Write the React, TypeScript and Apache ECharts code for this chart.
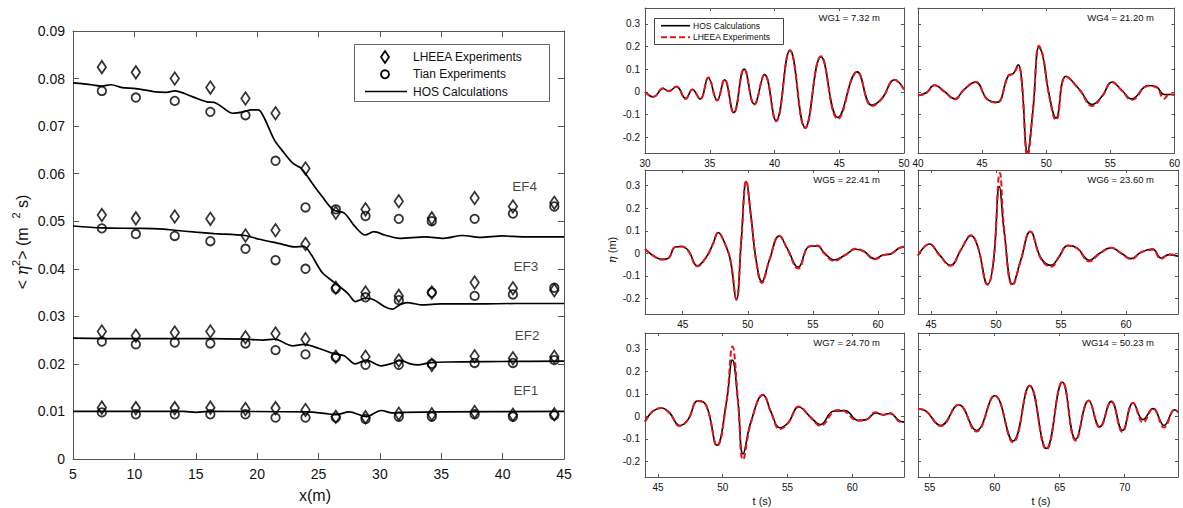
import React, { useEffect, useRef } from 'react';
import * as echarts from 'echarts';

const FONT = '"Liberation Sans", Arial, Helvetica, sans-serif';
const AX = '#555555';
const RED = '#e8141c';

// ---------------- Left panel: energy flux (EF1..EF4) ----------------
const xTicks = [5, 10, 15, 20, 25, 30, 35, 40, 45];
const yTicks = [0, 0.01, 0.02, 0.03, 0.04, 0.05, 0.06, 0.07, 0.08, 0.09];
const stationX = [7.35, 10.12, 13.29, 16.19, 19.05, 21.5, 23.94, 26.41, 28.83, 31.54, 34.23, 37.72, 40.84, 44.21];
const lheeaEF4 = [0.0824, 0.0813, 0.08, 0.0781, 0.0758, 0.0727, 0.0611, 0.0518, 0.0525, 0.0542, 0.0506, 0.0549, 0.0531, 0.0539];
const tianEF4 = [0.0774, 0.076, 0.0753, 0.073, 0.0723, 0.0627, 0.0529, 0.0525, 0.0511, 0.0505, 0.05, 0.0505, 0.0516, 0.0531];
const lheeaEF3 = [0.0513, 0.0506, 0.051, 0.0505, 0.047, 0.0481, 0.0452, 0.036, 0.035, 0.0343, 0.035, 0.0371, 0.0359, 0.0355];
const tianEF3 = [0.0485, 0.0473, 0.0469, 0.0458, 0.0442, 0.0418, 0.04, 0.0358, 0.034, 0.0334, 0.035, 0.0343, 0.0346, 0.036];
const lheeaEF2 = [0.0268, 0.0259, 0.0266, 0.0268, 0.0256, 0.0264, 0.0252, 0.0215, 0.0215, 0.0207, 0.0198, 0.0216, 0.0212, 0.0215];
const tianEF2 = [0.0247, 0.0241, 0.0245, 0.0243, 0.0243, 0.0229, 0.022, 0.0214, 0.0198, 0.0198, 0.02, 0.0202, 0.0202, 0.0208];
const lheeaEF1 = [0.0108, 0.0107, 0.0107, 0.0108, 0.0105, 0.0107, 0.0103, 0.0089, 0.0088, 0.0095, 0.0094, 0.0099, 0.0093, 0.0094];
const tianEF1 = [0.0098, 0.0094, 0.0094, 0.0094, 0.0094, 0.0087, 0.0087, 0.0087, 0.0084, 0.0089, 0.0089, 0.0094, 0.0089, 0.0092];

const hosEF4 = [[5, 0.0791], [6.5, 0.0787], [7.35, 0.0784], [8.1, 0.0787], [9, 0.0781], [10.12, 0.0779], [11.7, 0.0772], [12.6, 0.0771], [13.29, 0.0774], [14.7, 0.0762], [15.9, 0.0751], [16.5, 0.075], [17.1, 0.0741], [18, 0.0727], [18.9, 0.073], [19.5, 0.0734], [20.1, 0.0734], [20.6, 0.0716], [21.4, 0.0671], [22, 0.065], [22.9, 0.0622], [23.6, 0.0611], [24.4, 0.0583], [25.3, 0.0552], [26.2, 0.0524], [27.1, 0.0517], [28, 0.0488], [28.8, 0.0471], [29.5, 0.0478], [30.4, 0.0471], [31.6, 0.0464], [33.7, 0.0467], [35.2, 0.0464], [36.7, 0.047], [38.2, 0.0466], [40, 0.0469], [41.8, 0.0467], [45, 0.0467]];
const hosEF3 = [[5, 0.049], [7.35, 0.0486], [10.12, 0.0485], [12, 0.0484], [13.29, 0.0481], [15, 0.0477], [16.5, 0.0474], [19, 0.047], [20.2, 0.0462], [22, 0.0452], [23, 0.0446], [23.8, 0.0447], [24.4, 0.043], [25.3, 0.0392], [26.2, 0.0373], [27.4, 0.0348], [28, 0.0331], [28.8, 0.0338], [29.5, 0.0335], [30.4, 0.032], [31, 0.0315], [31.6, 0.0324], [32.2, 0.0329], [33.5, 0.0324], [35, 0.0326], [38, 0.0326], [41, 0.0327], [45, 0.0327]];
const hosEF2 = [[5, 0.0254], [10, 0.0253], [16, 0.0253], [19, 0.0252], [20.5, 0.025], [21.4, 0.0252], [22.9, 0.0238], [23.8, 0.0241], [25, 0.0233], [26.2, 0.0222], [27.1, 0.0217], [28, 0.02], [28.9, 0.0208], [30.1, 0.0196], [31, 0.0201], [31.6, 0.0208], [32.5, 0.02], [33.1, 0.0198], [34, 0.0202], [35.5, 0.0204], [40, 0.0205], [45, 0.0206]];
const hosEF1 = [[5, 0.01], [14, 0.01], [15, 0.0098], [16, 0.01], [24, 0.0099], [25.5, 0.0096], [26.4, 0.0093], [27.5, 0.0099], [28.9, 0.0089], [30.1, 0.0102], [31, 0.0097], [32, 0.0098], [35, 0.0099], [45, 0.01]];
const efLabels = [
  { name: 'EF4', value: [41.8, 0.0572] },
  { name: 'EF3', value: [41.9, 0.0404] },
  { name: 'EF2', value: [42.0, 0.0259] },
  { name: 'EF1', value: [41.9, 0.0143] },
];

// ---------------- Right panels: wave gauge time series ----------------
const etaTicks = [-0.2, -0.1, 0, 0.1, 0.2, 0.3];
const gaugeNames = ['WG1 = 7.32 m', 'WG4 = 21.20 m', 'WG5 = 22.41 m', 'WG6 = 23.60 m', 'WG7 = 24.70 m', 'WG14 = 50.23 m'];
const tRanges = [[30, 50], [40, 60], [42.1, 62], [44, 64], [44, 64], [54.1, 74.1]];
const tTicks = [[30, 35, 40, 45, 50], [40, 45, 50, 55, 60], [45, 50, 55, 60], [45, 50, 55, 60], [45, 50, 55, 60], [55, 60, 65, 70]];

const wg1Hos = [[30, 0], [30.65, -0.022], [31.4, 0.015], [31.83, 0.003], [32.43, 0.023], [33.14, -0.029], [33.66, 0.01], [34.26, -0.032], [34.89, 0.061], [35.57, -0.037], [36.14, 0.053], [36.85, -0.091], [37.66, 0.1], [38.44, -0.054], [39.23, 0.076], [40.12, -0.127], [41.19, 0.183], [42.37, -0.158], [43.59, 0.155], [44.9, -0.113], [46.39, 0.088], [47.52, -0.059], [48.3, -0.029], [49.27, 0.053], [50, 0.012]];
const wg1Lheea = [[30, 0], [30.65, -0.022], [31.4, 0.016], [31.83, 0.003], [32.43, 0.024], [33.14, -0.031], [33.66, 0.01], [34.26, -0.032], [34.89, 0.063], [35.57, -0.038], [36.14, 0.054], [36.85, -0.093], [37.66, 0.101], [38.44, -0.056], [39.23, 0.077], [40.12, -0.13], [41.19, 0.183], [42.37, -0.16], [43.59, 0.157], [44.9, -0.12], [46.39, 0.088], [47.52, -0.063], [48.3, -0.03], [49.27, 0.053], [50, 0.01]];
const wg4Hos = [[40, -0.016], [40.64, -0.004], [41.28, 0.029], [42.1, 0.0], [42.87, -0.031], [43.59, 0.01], [44.49, 0.043], [45.38, -0.031], [46.15, -0.046], [47.05, 0.072], [47.44, 0.081], [47.82, 0.119], [48.08, 0.054], [48.54, -0.266], [48.97, -0.078], [49.44, 0.199], [49.74, 0.157], [50.2, -0.004], [50.77, -0.115], [51.54, 0.069], [52.6, 0.01], [53.59, -0.056], [54.36, -0.019], [55.13, 0.043], [55.9, 0.007], [56.67, -0.031], [57.95, 0.028], [58.59, 0.022], [59.2, -0.012], [60, -0.012]];
const wg4Lheea = [[40, -0.016], [40.64, -0.006], [41.28, 0.029], [42.1, -0.002], [42.87, -0.033], [43.59, 0.01], [44.49, 0.043], [45.38, -0.033], [46.15, -0.048], [47.05, 0.07], [47.44, 0.08], [47.82, 0.112], [48.08, 0.05], [48.54, -0.285], [48.97, -0.08], [49.44, 0.203], [49.74, 0.16], [50.2, -0.01], [50.77, -0.125], [51.54, 0.068], [52.6, 0.008], [53.59, -0.062], [54.36, -0.02], [55.13, 0.043], [55.9, 0.005], [56.67, -0.036], [57.95, 0.026], [58.59, 0.02], [59.2, -0.03], [59.6, -0.01], [60, -0.014]];
const wg5Hos = [[42.1, 0.018], [42.76, -0.012], [43.4, -0.027], [43.9, -0.022], [44.4, 0.027], [44.9, 0.03], [45.43, 0.012], [46.12, -0.056], [46.83, -0.015], [47.34, 0.044], [47.72, 0.092], [48.23, 0.044], [48.66, -0.03], [49.12, -0.207], [49.5, 0.06], [49.88, 0.318], [50.26, 0.155], [50.64, -0.03], [51.08, -0.126], [51.66, -0.03], [52.42, 0.077], [53.06, 0.018], [53.87, -0.062], [54.71, 0.03], [55.35, 0.032], [55.86, 0.003], [56.62, -0.03], [57.51, -0.007], [58.27, 0.018], [58.91, 0.009], [59.75, -0.025], [60.43, -0.007], [60.94, -0.004], [61.6, 0.022], [62, 0.028]];
const wg5Lheea = [[42.1, 0.02], [42.76, -0.012], [43.4, -0.028], [43.9, -0.022], [44.4, 0.027], [44.9, 0.03], [45.43, 0.01], [46.12, -0.058], [46.83, -0.015], [47.34, 0.044], [47.72, 0.09], [48.23, 0.044], [48.66, -0.03], [49.12, -0.205], [49.5, 0.06], [49.88, 0.322], [50.26, 0.155], [50.64, -0.035], [51.08, -0.132], [51.66, -0.03], [52.42, 0.078], [53.06, 0.015], [53.87, -0.068], [54.71, 0.03], [55.35, 0.034], [55.86, 0.0], [56.62, -0.034], [57.51, -0.007], [58.27, 0.02], [58.91, 0.008], [59.75, -0.027], [60.43, -0.008], [60.94, -0.004], [61.6, 0.022], [62, 0.03]];
const wg6Hos = [[44, -0.01], [44.87, 0.041], [45.64, -0.006], [46.49, -0.054], [47.31, 0.016], [48.08, 0.078], [48.59, 0.031], [49.36, -0.138], [49.8, -0.04], [50.26, 0.296], [50.64, 0.09], [51.28, -0.138], [51.92, -0.028], [52.64, 0.097], [53.46, -0.021], [54.23, -0.054], [54.87, -0.013], [55.51, 0.034], [56.23, 0.024], [57.18, -0.031], [57.95, -0.001], [58.85, 0.024], [59.62, 0.001], [60.38, -0.024], [61.15, 0.004], [62.05, 0.019], [62.69, -0.021], [63.33, -0.006], [64, -0.013]];
const wg6Lheea = [[44, -0.01], [44.87, 0.041], [45.64, -0.008], [46.49, -0.056], [47.31, 0.016], [48.08, 0.08], [48.59, 0.03], [49.36, -0.14], [49.8, -0.04], [50.3, 0.357], [50.64, 0.1], [51.28, -0.143], [51.92, -0.03], [52.64, 0.097], [53.46, -0.025], [54.23, -0.06], [54.87, -0.015], [55.51, 0.034], [56.23, 0.022], [57.18, -0.036], [57.95, -0.003], [58.85, 0.024], [59.62, 0.0], [60.38, -0.026], [61.15, 0.004], [61.6, 0.012], [62.05, 0.016], [62.69, -0.025], [63.33, -0.004], [64, -0.012]];
const wg7Hos = [[44, -0.022], [44.6, 0.022], [45.26, 0.037], [45.9, 0.015], [46.68, -0.041], [47.32, -0.015], [48.09, 0.069], [48.74, 0.047], [49.56, -0.129], [50.28, 0.059], [50.75, 0.25], [51.19, 0.059], [51.57, -0.168], [52.2, -0.02], [53.12, 0.095], [53.76, 0.015], [54.41, -0.051], [55.05, -0.029], [55.88, 0.041], [56.73, 0.0], [57.55, -0.037], [58.53, 0.022], [59.43, 0.025], [60.46, -0.018], [61.1, -0.015], [61.8, 0.015], [62.4, 0.007], [62.91, 0.012], [63.7, -0.022], [64, -0.025]];
const wg7Lheea = [[44, -0.025], [44.6, 0.022], [45.26, 0.037], [45.9, 0.013], [46.68, -0.043], [47.32, -0.015], [48.09, 0.068], [48.74, 0.045], [49.56, -0.131], [50.28, 0.06], [50.75, 0.31], [51.19, 0.06], [51.57, -0.193], [52.2, -0.025], [53.12, 0.096], [53.76, 0.012], [54.41, -0.058], [55.05, -0.03], [55.88, 0.043], [56.73, -0.002], [57.55, -0.042], [58.53, 0.02], [59.0, 0.028], [59.43, 0.022], [60.46, -0.02], [61.1, -0.015], [61.8, 0.018], [62.4, 0.006], [62.91, 0.014], [63.7, -0.024], [64, -0.025]];
const wg14Hos = [[54.1, 0.032], [54.62, 0.026], [55.85, -0.041], [57.23, 0.051], [58.59, -0.063], [60, 0.091], [61.41, -0.11], [62.69, 0.136], [63.97, -0.143], [65.21, 0.151], [66.23, -0.102], [67.23, 0.07], [68.08, -0.047], [68.97, 0.066], [69.82, -0.063], [70.64, 0.059], [71.41, -0.015], [72.18, 0.034], [73.03, -0.041], [73.85, 0.029], [74.1, 0.018]];
const wg14Lheea = [[54.1, 0.032], [54.62, 0.026], [55.85, -0.043], [57.23, 0.051], [58.59, -0.068], [60, 0.092], [61.41, -0.115], [62.69, 0.136], [63.97, -0.148], [65.21, 0.153], [66.23, -0.108], [67.23, 0.07], [68.08, -0.05], [68.97, 0.066], [69.82, -0.07], [70.64, 0.06], [71.41, -0.028], [72.18, 0.036], [73.03, -0.05], [73.85, 0.03], [74.1, 0.018]];

const hosSets = [wg1Hos, wg4Hos, wg5Hos, wg6Hos, wg7Hos, wg14Hos];
const lheeaSets = [wg1Lheea, wg4Lheea, wg5Lheea, wg6Lheea, wg7Lheea, wg14Lheea];

// layout (pixels)
const leftGrid = { left: 73, top: 31, width: 491, height: 428 };
const colLeft = [645, 918];
const colWidth = [259, 260];
const rowTop = [8, 170, 333];
const rowHeight = [145, 144, 144];

function buildOption() {
  const grids: any[] = [leftGrid];
  const xAxes: any[] = [];
  const yAxes: any[] = [];
  const series: any[] = [];
  const graphic: any[] = [];

  const axLine = { show: true, onZero: false, lineStyle: { color: AX, width: 1 } };
  const mkTick = (vals: number[], len: number) => ({ show: true, inside: true, length: len, customValues: vals, lineStyle: { color: AX, width: 1 } });

  function addAxes(gi: number, xr: number[], xt: number[], yr: number[], yt: number[], showXL: boolean, showYL: boolean, fs: number, tl: number, xf: any, yf: any, margin: number) {
    xAxes.push({ type: 'value', gridIndex: gi, min: xr[0], max: xr[1], position: 'bottom', axisLine: axLine, axisTick: mkTick(xt, tl), splitLine: { show: false },
      axisLabel: { show: showXL, customValues: xt, formatter: xf, fontSize: fs, fontFamily: FONT, color: '#111', margin, showMinLabel: true, showMaxLabel: true, hideOverlap: false } });
    xAxes.push({ type: 'value', gridIndex: gi, min: xr[0], max: xr[1], position: 'top', axisLine: axLine, axisTick: mkTick(xt, tl), splitLine: { show: false }, axisLabel: { show: false } });
    yAxes.push({ type: 'value', gridIndex: gi, min: yr[0], max: yr[1], position: 'left', axisLine: axLine, axisTick: mkTick(yt, tl), splitLine: { show: false },
      axisLabel: { show: showYL, customValues: yt, formatter: yf, fontSize: fs, fontFamily: FONT, color: '#111', margin, showMinLabel: true, showMaxLabel: true, hideOverlap: false } });
    yAxes.push({ type: 'value', gridIndex: gi, min: yr[0], max: yr[1], position: 'right', axisLine: axLine, axisTick: mkTick(yt, tl), splitLine: { show: false }, axisLabel: { show: false } });
  }

  // left panel axes
  addAxes(0, [5, 45], xTicks, [0, 0.09], yTicks, true, true, 14, 6,
    (v: number) => String(v), (v: number) => (v === 0 ? '0' : v.toFixed(2)), 8);

  const hosSetsLeft = [hosEF4, hosEF3, hosEF2, hosEF1];
  hosSetsLeft.forEach((d) => series.push({ type: 'line', xAxisIndex: 0, yAxisIndex: 0, data: d, showSymbol: false, symbol: 'none', smooth: 0.3, lineStyle: { color: '#000', width: 1.7 }, silent: true, z: 2 }));
  const lheeaSetsLeft = [lheeaEF4, lheeaEF3, lheeaEF2, lheeaEF1];
  const tianSetsLeft = [tianEF4, tianEF3, tianEF2, tianEF1];
  lheeaSetsLeft.forEach((vals) => series.push({ type: 'scatter', xAxisIndex: 0, yAxisIndex: 0, data: stationX.map((x, i) => [x, vals[i]]), symbol: 'diamond', symbolSize: [8.5, 12.5],
    itemStyle: { color: 'rgba(0,0,0,0)', borderColor: '#000', borderWidth: 1.8 }, silent: true, z: 3 }));
  tianSetsLeft.forEach((vals) => series.push({ type: 'scatter', xAxisIndex: 0, yAxisIndex: 0, data: stationX.map((x, i) => [x, vals[i]]), symbol: 'circle', symbolSize: 8.5,
    itemStyle: { color: 'rgba(0,0,0,0)', borderColor: '#000', borderWidth: 1.8 }, silent: true, z: 3 }));
  series.push({ type: 'scatter', xAxisIndex: 0, yAxisIndex: 0, data: efLabels, symbol: 'circle', symbolSize: 1, itemStyle: { color: 'rgba(0,0,0,0)' }, silent: true,
    label: { show: true, position: 'inside', formatter: '{b}', fontSize: 13.5, fontFamily: FONT, color: '#111' } });

  // right panels
  for (let k = 0; k < 6; k++) {
    const col = k % 2;
    const row = Math.floor(k / 2);
    const gi = k + 1;
    grids.push({ left: colLeft[col], top: rowTop[row], width: colWidth[col], height: rowHeight[row] });
    addAxes(gi, tRanges[k], tTicks[k], [-0.27, 0.37], etaTicks, true, col === 0, 10, 3,
      (v: number) => String(v), (v: number) => (v === 0 ? '0' : v.toFixed(1)), 5);
    series.push({ type: 'line', xAxisIndex: 2 * gi, yAxisIndex: 2 * gi, data: hosSets[k], showSymbol: false, symbol: 'none', smooth: 0.45,
      lineStyle: { color: '#000', width: 1.6 }, silent: true, z: 2 });
    series.push({ type: 'line', xAxisIndex: 2 * gi, yAxisIndex: 2 * gi, data: lheeaSets[k], showSymbol: false, symbol: 'none', smooth: 0.45,
      lineStyle: { color: RED, width: 2, type: [6, 3] }, silent: true, z: 3 });
    graphic.push({ type: 'text', x: colLeft[col] + colWidth[col] - 24, y: rowTop[row] + 9, z: 50,
      style: { text: gaugeNames[k], fontSize: 9.5, fontFamily: FONT, fill: '#111', align: 'right', verticalAlign: 'middle', textAlign: 'right', textVerticalAlign: 'middle' } });
  }

  const txt = (x: number, y: number, text: string, fs: number, extra: any = {}) => ({
    type: 'text', x, y, z: 60, ...extra,
    style: { text, fontSize: fs, fontFamily: FONT, fill: '#111', align: extra.align || 'left', verticalAlign: 'middle', textAlign: extra.align || 'left', textVerticalAlign: 'middle', rich: extra.rich },
  });

  // left legend
  graphic.push({ type: 'rect', z: 40, shape: { x: 354.5, y: 44.5, width: 195, height: 57 }, style: { fill: '#fff', stroke: '#666', lineWidth: 1 } });
  graphic.push({ type: 'polygon', z: 41, shape: { points: [[385, 51], [389, 57], [385, 63], [381, 57]] }, style: { fill: 'none', stroke: '#000', lineWidth: 1.8 } });
  graphic.push({ type: 'circle', z: 41, shape: { cx: 385, cy: 74.3, r: 4 }, style: { fill: 'none', stroke: '#000', lineWidth: 1.8 } });
  graphic.push({ type: 'line', z: 41, shape: { x1: 365, y1: 91.5, x2: 407, y2: 91.5 }, style: { stroke: '#000', lineWidth: 1.7 } });
  graphic.push(txt(413, 57, 'LHEEA Experiments', 12));
  graphic.push(txt(413, 74.3, 'Tian Experiments', 12));
  graphic.push(txt(413, 91.5, 'HOS Calculations', 12));

  // right legend (in WG1 panel)
  graphic.push({ type: 'rect', z: 40, shape: { x: 654.5, y: 18.5, width: 129, height: 26 }, style: { fill: '#fff', stroke: '#444', lineWidth: 1 } });
  graphic.push({ type: 'line', z: 41, shape: { x1: 661, y1: 25.7, x2: 690, y2: 25.7 }, style: { stroke: '#000', lineWidth: 1.6 } });
  graphic.push({ type: 'line', z: 41, shape: { x1: 661, y1: 37.3, x2: 690, y2: 37.3 }, style: { stroke: RED, lineWidth: 2, lineDash: [6, 3] } });
  graphic.push(txt(693, 25.7, 'HOS Calculations', 8.5));
  graphic.push(txt(693, 37.3, 'LHEEA Experiments', 8.5));

  // axis names
  graphic.push(txt(315, 495, 'x(m)', 16, { align: 'center' }));
  graphic.push(txt(762, 501, 't (s)', 11, { align: 'center' }));
  graphic.push(txt(1041, 501, 't (s)', 11, { align: 'center' }));
  graphic.push(txt(22, 242, '{n|< }{i|η}{s|2}{n|> (m  }{s|2}{n| s)}', 16, {
    align: 'center', rotation: Math.PI / 2,
    rich: { n: { fontSize: 16, fontFamily: FONT, lineHeight: 24 }, i: { fontSize: 16, fontStyle: 'italic', fontFamily: '"DejaVu Serif", serif', lineHeight: 24 }, s: { fontSize: 11, fontFamily: FONT, verticalAlign: 'top', lineHeight: 12 } },
  }));
  graphic.push(txt(612, 250, '{i|η} (m)', 11, {
    align: 'center', rotation: Math.PI / 2,
    rich: { i: { fontSize: 11.5, fontStyle: 'italic', fontFamily: '"DejaVu Serif", serif' } },
  }));

  return {
    animation: false,
    backgroundColor: '#fff',
    grid: grids,
    xAxis: xAxes,
    yAxis: yAxes,
    series,
    graphic,
  };
}

export default function App() {
  const ref = useRef<HTMLDivElement>(null);
  useEffect(() => {
    const chart = echarts.init(ref.current!, null, { renderer: 'svg' });
    chart.setOption(buildOption());
    return () => chart.dispose();
  }, []);
  return <div ref={ref} style={{ position: 'absolute', left: 0, top: 0, width: 1183, height: 508, background: '#fff' }} />;
}
